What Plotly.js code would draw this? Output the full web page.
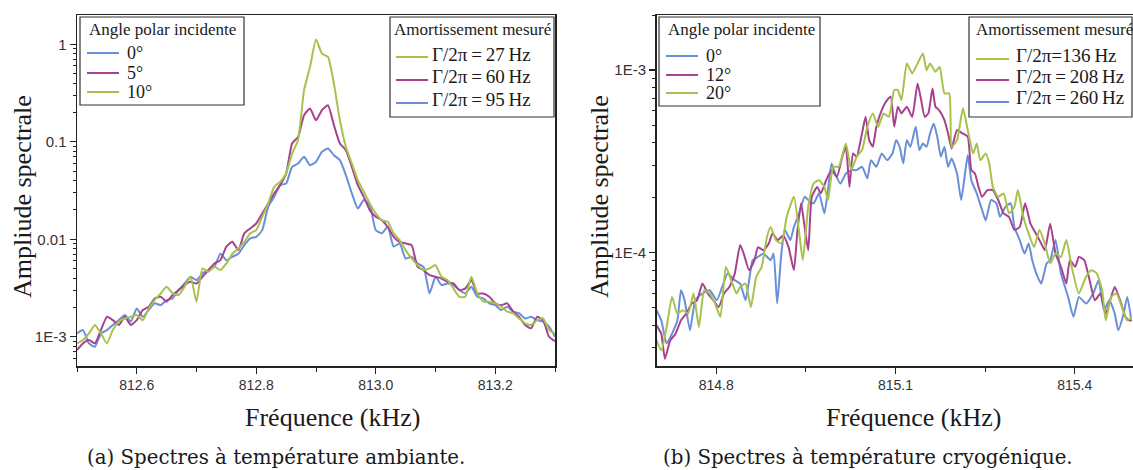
<!DOCTYPE html>
<html><head><meta charset="utf-8">
<script src="https://cdn.plot.ly/plotly-3.0.1.min.js"></script>
<style>html,body{margin:0;padding:0;background:#fff;}#chart{width:1133px;height:470px;}</style>
</head><body><div id="chart"></div>
<script>
// ---------- (a) room temperature ----------
const freqA = [812.50,812.51,812.52,812.53,812.54,812.55,812.56,812.57,812.58,812.59,
812.60,812.61,812.62,812.63,812.64,812.65,812.66,812.67,812.68,812.69,
812.70,812.71,812.72,812.73,812.74,812.75,812.76,812.77,812.78,812.79,
812.80,812.81,812.82,812.83,812.84,812.85,812.86,812.87,812.88,812.89,
812.90,812.91,812.92,812.93,812.94,812.95,812.96,812.97,812.98,812.99,
813.00,813.01,813.02,813.03,813.04,813.05,813.06,813.07,813.08,813.09,
813.10,813.11,813.12,813.13,813.14,813.15,813.16,813.17,813.18,813.19,
813.20,813.21,813.22,813.23,813.24,813.25,813.26,813.27,813.28,813.29,813.30];
const ampA_0deg = [1.08e-3,1.17e-3,8.55e-4,7.9e-4,1.08e-3,1.17e-3,1.32e-3,1.48e-3,1.67e-3,1.43e-3,
1.95e-3,1.60e-3,1.88e-3,2.20e-3,2.11e-3,2.38e-3,2.47e-3,3.01e-3,3.52e-3,4.12e-3,
3.81e-3,4.46e-3,4.83e-3,5.22e-3,7.1e-3,6.1e-3,6.61e-3,7.1e-3,8.71e-3,0.0102,
0.0106,0.0124,0.0215,0.0272,0.0359,0.0373,0.0553,0.0598,0.070,0.0575,
0.0622,0.0788,0.0853,0.0728,0.0647,0.0454,0.0295,0.0207,0.0252,0.0224,
0.0124,0.0115,0.0134,8.4e-3,9.06e-3,6.35e-3,6.61e-3,5.65e-3,5.22e-3,2.78e-3,
4.12e-3,3.39e-3,3.52e-3,3.39e-3,3.01e-3,2.78e-3,3.26e-3,2.57e-3,2.47e-3,2.20e-3,
2.11e-3,1.88e-3,2.03e-3,1.81e-3,1.74e-3,1.54e-3,1.60e-3,1.48e-3,1.43e-3,1.27e-3,1.0e-3];
const ampA_5deg = [7.3e-4,8.55e-4,9.25e-4,8.55e-4,1.17e-3,1.60e-3,1.48e-3,1.32e-3,1.60e-3,1.32e-3,
1.48e-3,1.88e-3,2.03e-3,2.47e-3,2.57e-3,2.29e-3,2.68e-3,3.01e-3,3.39e-3,3.66e-3,
3.52e-3,4.12e-3,4.83e-3,5.65e-3,6.1e-3,8.4e-3,9.42e-3,7.74e-3,0.0115,0.0129,
0.0145,0.0184,0.0233,0.0295,0.0359,0.0472,0.096,0.112,0.187,0.219,
0.166,0.211,0.237,0.148,0.096,0.082,0.0553,0.0359,0.0272,0.0199,
0.0170,0.0157,0.0134,0.0106,9.42e-3,9.06e-3,8.71e-3,5.22e-3,4.83e-3,4.29e-3,
4.12e-3,3.96e-3,3.66e-3,3.52e-3,3.01e-3,3.13e-3,3.81e-3,2.78e-3,2.78e-3,2.57e-3,
2.20e-3,2.11e-3,2.20e-3,1.81e-3,1.60e-3,1.32e-3,1.22e-3,1.60e-3,1.48e-3,1.0e-3,9.0e-4];
const ampA_10deg = [8.55e-4,9.25e-4,1.08e-3,1.32e-3,1.08e-3,8.55e-4,1.17e-3,1.43e-3,1.54e-3,1.60e-3,
1.67e-3,1.48e-3,1.95e-3,2.38e-3,2.78e-3,3.26e-3,2.78e-3,2.68e-3,3.26e-3,4.12e-3,
2.29e-3,5.02e-3,4.64e-3,5.22e-3,4.83e-3,5.65e-3,7.1e-3,8.05e-3,9.42e-3,0.0115,
0.0124,0.0170,0.0233,0.0345,0.0388,0.0472,0.0757,0.104,0.338,0.586,
1.12,0.80,0.742,0.395,0.166,0.0886,0.0598,0.0404,0.0307,0.0233,
0.0184,0.0157,0.0151,0.0115,9.8e-3,7.74e-3,6.35e-3,5.43e-3,4.83e-3,5.02e-3,
5.43e-3,4.12e-3,3.81e-3,3.13e-3,2.57e-3,2.57e-3,4.12e-3,2.78e-3,2.29e-3,2.29e-3,
2.20e-3,2.03e-3,1.81e-3,1.74e-3,1.54e-3,1.37e-3,1.32e-3,1.48e-3,1.54e-3,1.17e-3,1.08e-3];

// ---------- (b) cryogenic temperature ----------
const freqB_0deg = [814.700,814.708,814.717,814.726,814.735,814.741,814.747,814.756,814.765,814.777,
814.789,814.801,814.810,814.819,814.831,814.840,814.849,814.855,814.861,814.870,
814.879,814.891,814.896,814.902,814.909,814.915,814.924,814.930,814.939,814.948,
814.954,814.963,814.972,814.981,814.987,814.993,814.999,815.008,815.017,815.026,
815.035,815.044,815.053,815.059,815.068,815.077,815.086,815.095,815.101,815.107,
815.113,815.119,815.125,815.134,815.140,815.146,815.152,815.158,815.164,815.170,
815.176,815.182,815.188,815.194,815.203,815.210,815.215,815.221,815.227,815.236,
815.245,815.251,815.260,815.269,815.275,815.284,815.293,815.299,815.308,815.316,
815.323,815.329,815.338,815.344,815.353,815.359,815.368,815.377,815.389,815.398,
815.407,815.419,815.431,815.440,815.449,815.458,815.467,815.473,815.482,815.488,815.494];
const ampB_0deg = [4.83e-5,4.25e-5,3.17e-5,3.59e-5,4.25e-5,6.21e-5,5.48e-5,3.75e-5,5.48e-5,5.96e-5,
6.21e-5,5.48e-5,6.48e-5,7.67e-5,7.05e-5,6.76e-5,5.48e-5,7.05e-5,9.08e-5,9.46e-5,
9.87e-5,9.08e-5,9.87e-5,5.25e-5,9.87e-5,1.33e-4,1.17e-4,1.38e-4,1.64e-4,2.02e-4,
1.94e-4,1.86e-4,2.11e-4,1.64e-4,2.20e-4,3.08e-4,2.71e-4,2.39e-4,2.71e-4,2.83e-4,
2.83e-4,2.95e-4,2.55e-4,3.21e-4,2.95e-4,3.49e-4,3.21e-4,3.49e-4,4.13e-4,3.80e-4,
3.08e-4,4.13e-4,3.80e-4,4.89e-4,3.64e-4,3.96e-4,3.80e-4,4.50e-4,5.10e-4,4.31e-4,
3.35e-4,3.80e-4,2.95e-4,3.28e-4,2.71e-4,1.94e-4,2.49e-4,3.42e-4,2.49e-4,2.11e-4,
1.71e-4,1.50e-4,1.94e-4,1.86e-4,1.57e-4,1.78e-4,1.86e-4,1.38e-4,1.17e-4,9.87e-5,
1.12e-4,9.08e-5,7.36e-5,6.76e-5,8.71e-5,9.08e-5,1.17e-4,7.67e-5,5.71e-5,4.44e-5,
5.71e-5,5.25e-5,5.96e-5,7.05e-5,4.83e-5,5.48e-5,4.63e-5,3.75e-5,4.63e-5,5.71e-5,4.44e-5];
const freqB_12deg = [814.700,814.708,814.714,814.723,814.732,814.741,814.750,814.759,814.768,814.777,
814.786,814.795,814.804,814.813,814.822,814.831,814.840,814.846,814.855,814.864,
814.870,814.879,814.888,814.894,814.903,814.912,814.921,814.930,814.936,814.942,
814.948,814.954,814.960,814.969,814.975,814.984,814.993,815.002,815.011,815.017,
815.023,815.029,815.035,815.044,815.050,815.056,815.062,815.068,815.077,815.086,
815.092,815.098,815.104,815.110,815.119,815.128,815.137,815.143,815.149,815.155,
815.162,815.167,815.173,815.182,815.188,815.194,815.203,815.212,815.221,815.227,
815.233,815.239,815.245,815.254,815.263,815.272,815.281,815.290,815.299,815.308,
815.317,815.326,815.335,815.344,815.350,815.359,815.368,815.377,815.386,815.392,
815.401,815.407,815.416,815.425,815.434,815.443,815.452,815.461,815.467,815.476,
815.485,815.491,815.496];
const ampB_12deg = [3.99e-5,3.59e-5,2.62e-5,3.30e-5,3.59e-5,4.25e-5,4.63e-5,5.25e-5,5.48e-5,6.76e-5,
5.96e-5,5.48e-5,5.03e-5,5.96e-5,6.48e-5,7.67e-5,1.10e-4,9.87e-5,8.00e-5,9.08e-5,
1.07e-4,1.03e-4,1.12e-4,1.27e-4,1.17e-4,1.24e-4,1.07e-4,8.00e-5,1.33e-4,1.86e-4,
1.38e-4,1.03e-4,2.02e-4,2.29e-4,2.11e-4,2.49e-4,2.83e-4,2.60e-4,3.35e-4,3.80e-4,
2.29e-4,3.49e-4,3.35e-4,4.50e-4,5.55e-4,4.13e-4,3.80e-4,4.89e-4,6.04e-4,6.85e-4,
7.14e-4,4.89e-4,6.30e-4,5.79e-4,6.30e-4,5.55e-4,8.45e-4,6.85e-4,5.55e-4,5.79e-4,
7.93e-4,6.30e-4,6.04e-4,5.32e-4,4.50e-4,3.72e-4,4.69e-4,4.50e-4,4.31e-4,2.83e-4,
2.71e-4,2.29e-4,2.02e-4,2.20e-4,2.20e-4,1.94e-4,1.64e-4,1.57e-4,1.33e-4,1.38e-4,
1.86e-4,1.44e-4,1.27e-4,1.12e-4,1.03e-4,1.44e-4,9.87e-5,8.35e-5,6.76e-5,9.08e-5,
8.35e-5,9.46e-5,9.08e-5,7.05e-5,5.48e-5,5.96e-5,4.63e-5,5.71e-5,6.48e-5,5.48e-5,
4.44e-5,4.25e-5,4.25e-5];
const freqB_20deg = [814.700,814.708,814.717,814.726,814.735,814.744,814.753,814.762,814.771,814.780,
814.789,814.798,814.807,814.816,814.825,814.834,814.840,814.849,814.858,814.867,
814.876,814.885,814.891,814.900,814.909,814.918,814.930,814.939,814.945,814.954,
814.963,814.972,814.981,814.987,814.996,815.005,815.017,815.026,815.035,815.044,
815.053,815.062,815.071,815.080,815.089,815.098,815.104,815.110,815.119,815.128,
815.137,815.146,815.152,815.158,815.167,815.174,815.182,815.190,815.194,815.203,
815.213,815.221,815.230,815.236,815.242,815.251,815.257,815.263,815.272,815.281,
815.290,815.299,815.305,815.314,815.323,815.332,815.341,815.350,815.359,815.368,
815.377,815.386,815.395,815.407,815.419,815.428,815.437,815.446,815.452,815.461,
815.470,815.479,815.488,815.496];
const ampB_20deg = [3.30e-5,2.91e-5,3.91e-5,5.71e-5,4.63e-5,4.83e-5,4.63e-5,5.96e-5,3.91e-5,6.21e-5,
5.96e-5,5.25e-5,4.44e-5,8.35e-5,7.05e-5,5.96e-5,6.48e-5,6.76e-5,5.03e-5,7.36e-5,
8.35e-5,1.22e-4,1.38e-4,1.17e-4,1.12e-4,1.57e-4,2.02e-4,1.27e-4,9.08e-5,1.78e-4,
2.39e-4,2.49e-4,2.29e-4,1.94e-4,2.95e-4,2.95e-4,3.96e-4,2.83e-4,3.35e-4,3.64e-4,
4.89e-4,5.79e-4,4.89e-4,5.79e-4,5.55e-4,7.77e-4,7.77e-4,6.85e-4,1.088e-3,9.59e-4,
1.088e-3,1.234e-3,1.0e-3,1.088e-3,9.79e-4,1.043e-3,7.45e-4,7.45e-4,3.80e-4,4.13e-4,
6.17e-4,4.69e-4,3.49e-4,3.96e-4,3.21e-4,3.49e-4,3.08e-4,2.29e-4,2.02e-4,2.11e-4,
1.64e-4,1.78e-4,2.20e-4,1.57e-4,1.27e-4,1.07e-4,1.33e-4,1.12e-4,8.71e-5,9.87e-5,
9.46e-5,1.17e-4,8.35e-5,5.96e-5,7.36e-5,8.00e-5,7.67e-5,6.21e-5,4.25e-5,5.71e-5,
5.96e-5,5.03e-5,4.25e-5,4.44e-5];

// ---------- ticks & labels ----------
const xTicksA = [812.6, 812.8, 813.0, 813.2];
const xLabelsA = ['812.6', '812.8', '813.0', '813.2'];
const xMinorA = [812.5, 812.7, 812.9, 813.1, 813.3];
const yTicksA = [1e-3, 0.01, 0.1, 1];
const yLabelsA = ['1E-3', '0.01', '0.1', '1'];
const yMinorA = [6e-4,7e-4,8e-4,9e-4,2e-3,3e-3,4e-3,5e-3,6e-3,7e-3,8e-3,9e-3,0.02,0.03,0.04,0.05,0.06,0.07,0.08,0.09,0.2,0.3,0.4,0.5,0.6,0.7,0.8,0.9];
const xTicksB = [814.8, 815.1, 815.4];
const xLabelsB = ['814.8', '815.1', '815.4'];
const xMinorB = [814.95, 815.25];
const yTicksB = [1e-4, 1e-3];
const yLabelsB = ['1E-4', '1E-3'];
const yMinorB = [3e-5,4e-5,5e-5,6e-5,7e-5,8e-5,9e-5,2e-4,3e-4,4e-4,5e-4,6e-4,7e-4,8e-4,9e-4,2e-3];

const anglesA = ['0°', '5°', '10°'];
const dampingA = ['Γ/2π\u2009=\u200927\u2009Hz', 'Γ/2π\u2009=\u200960\u2009Hz', 'Γ/2π\u2009=\u200995\u2009Hz'];
const anglesB = ['0°', '12°', '20°'];
const dampingB = ['Γ/2π=136\u2009Hz', 'Γ/2π\u2009=\u2009208\u2009Hz', 'Γ/2π\u2009=\u2009260\u2009Hz'];

const BLUE = '#6a8fd8', PURPLE = '#a8418f', GREEN = '#a5c24a';
const W = 1133, H = 470;
const fx = p => p / W, fy = p => 1 - p / H;
const SERIF = "'Liberation Serif', 'Times New Roman', serif";
const SANS = "'Liberation Sans', Arial, sans-serif";
const CM = "'DejaVu Serif', serif";
const INK = '#222';

function tr(x, y, c, xa, ya) {
  return {x: x, y: y, type: 'scatter', mode: 'lines', xaxis: xa, yaxis: ya,
    line: {color: c, width: 2, shape: 'spline', smoothing: 0.5}, showlegend: false, hoverinfo: 'skip'};
}
const data = [
  tr(freqA, ampA_0deg, BLUE, 'x', 'y'),
  tr(freqA, ampA_5deg, PURPLE, 'x', 'y'),
  tr(freqA, ampA_10deg, GREEN, 'x', 'y'),
  tr(freqB_0deg, ampB_0deg, BLUE, 'x2', 'y2'),
  tr(freqB_12deg, ampB_12deg, PURPLE, 'x2', 'y2'),
  tr(freqB_20deg, ampB_20deg, GREEN, 'x2', 'y2')
];

const yDom = [fy(366), fy(15)];
const rangeA = [812.5, 813.3], rangeB = [814.7, 814.7 + (1133 - 656.5) / 597.4];
const logA = [-3.3, 0.3], logB = [-4.622, -2.698];

function xMain(dom, rng, tv, tt, mv, anchor) {
  return {domain: dom, range: rng, anchor: anchor, showline: true, mirror: true, linecolor: INK, linewidth: 1.5,
    ticks: 'outside', ticklen: 6, tickwidth: 1.2, tickcolor: INK, tickmode: 'array', tickvals: tv, ticktext: tt,
    tickfont: {family: SANS, size: 14, color: '#333'},
    minor: {tickmode: 'array', tickvals: mv, ticks: 'outside', ticklen: 4, tickwidth: 1, tickcolor: INK},
    showgrid: false, zeroline: false};
}
function yMain(dom, rng, tv, tt, mv, anchor) {
  return {domain: dom, type: 'log', range: rng, anchor: anchor, showline: true, mirror: true, linecolor: INK, linewidth: 1.5,
    ticks: 'outside', ticklen: 6, tickwidth: 1.2, tickcolor: INK, tickmode: 'array', tickvals: tv, ticktext: tt,
    tickfont: {family: SANS, size: 15, color: '#333'},
    minor: {tickmode: 'array', tickvals: mv, ticks: 'outside', ticklen: 3, tickwidth: 1, tickcolor: INK},
    showgrid: false, zeroline: false};
}
function xTop(over, rng, tv, mv, anchor) {
  return {overlaying: over, side: 'top', anchor: anchor, range: rng, showline: false, showticklabels: false,
    ticks: 'inside', ticklen: 6, tickwidth: 1.2, tickcolor: INK, tickmode: 'array', tickvals: tv,
    minor: {tickmode: 'array', tickvals: mv, ticks: 'inside', ticklen: 3, tickwidth: 1, tickcolor: INK},
    showgrid: false, zeroline: false};
}
function yRight(over, rng, tv, mv, anchor) {
  return {overlaying: over, side: 'right', anchor: anchor, type: 'log', range: rng, showline: false, showticklabels: false,
    ticks: 'inside', ticklen: 6, tickwidth: 1.2, tickcolor: INK, tickmode: 'array', tickvals: tv,
    minor: {tickmode: 'array', tickvals: mv, ticks: 'inside', ticklen: 3, tickwidth: 1, tickcolor: INK},
    showgrid: false, zeroline: false};
}

const shapes = [], annotations = [];
function box(x0, y0, x1, y1) {
  shapes.push({type: 'rect', xref: 'paper', yref: 'paper', x0: fx(x0), x1: fx(x1), y0: fy(y1), y1: fy(y0),
    fillcolor: '#fff', line: {color: '#333', width: 1.2}, layer: 'above'});
}
function sample(x0, x1, y, c) {
  shapes.push({type: 'line', xref: 'paper', yref: 'paper', x0: fx(x0), x1: fx(x1), y0: fy(y), y1: fy(y),
    line: {color: c, width: 2}, layer: 'above'});
}
function txt(t, x, y, size, xa, extra, fam) {
  annotations.push(Object.assign({text: t, xref: 'paper', yref: 'paper', x: fx(x), y: fy(y), xanchor: xa, yanchor: 'middle',
    showarrow: false, font: {family: fam || SERIF, size: size, color: '#1a1a1a'}}, extra || {}));
}
const cols = [BLUE, PURPLE, GREEN];
const colsRev = [GREEN, PURPLE, BLUE];

// legend boxes (a)
box(80, 17, 244, 105);
txt('Angle polar incidente', 162.5, 29, 17, 'center');
[53, 73, 92].forEach((y, i) => { sample(87, 119, y, cols[i]); txt(anglesA[i], 125, y, 18, 'left'); });
box(390, 17, 554, 117);
txt('Amortissement mesuré', 472.5, 29, 17, 'center');
[57, 80, 103].forEach((y, i) => { sample(396, 428, y, colsRev[i]); txt(dampingA[i], 430, y - 3, 19, 'left'); });
// legend boxes (b)
box(659, 17, 820, 106);
txt('Angle polar incidente', 741.5, 29, 17, 'center');
[56, 75, 93].forEach((y, i) => { sample(666, 698, y, cols[i]); txt(anglesB[i], 704, y, 18, 'left'); });
box(969, 17, 1132, 117);
txt('Amortissement mesuré', 974, 29, 17, 'left');
[59, 80, 102].forEach((y, i) => { sample(976, 1009, y, colsRev[i]); txt(dampingB[i], 1014, y - 4, 19, 'left'); });

// axis titles
txt('Fréquence (kHz)', 332.5, 417, 26, 'center');
txt('Fréquence (kHz)', 913, 417, 26, 'center');
txt('Ampliude spectrale', 22, 197, 26, 'center', {textangle: -90});
txt('Ampliude spectrale', 599, 197, 26, 'center', {textangle: -90});
// captions
txt('(a) Spectres à température ambiante.', 276, 457, 19.8, 'center', null, CM);
txt('(b) Spectres à température cryogénique.', 868, 457, 19.8, 'center', null, CM);

const layout = {
  width: W, height: H, margin: {l: 0, r: 0, t: 0, b: 0}, paper_bgcolor: '#fff', plot_bgcolor: '#fff', showlegend: false,
  xaxis: xMain([fx(77), fx(555)], rangeA, xTicksA, xLabelsA, xMinorA, 'y'),
  yaxis: yMain(yDom, logA, yTicksA, yLabelsA, yMinorA, 'x'),
  xaxis2: xMain([fx(656.5), 1], rangeB, xTicksB, xLabelsB, xMinorB, 'y2'),
  yaxis2: yMain(yDom, logB, yTicksB, yLabelsB, yMinorB, 'x2'),
  xaxis3: xTop('x', rangeA, xTicksA, xMinorA, 'y'),
  yaxis3: yRight('y', logA, yTicksA, yMinorA, 'x'),
  xaxis4: xTop('x2', rangeB, xTicksB, xMinorB, 'y2'),
  yaxis4: yRight('y2', logB, yTicksB, yMinorB, 'x2'),
  shapes: shapes, annotations: annotations
};
Plotly.newPlot('chart', data, layout, {staticPlot: true, displayModeBar: false});
</script></body></html>
